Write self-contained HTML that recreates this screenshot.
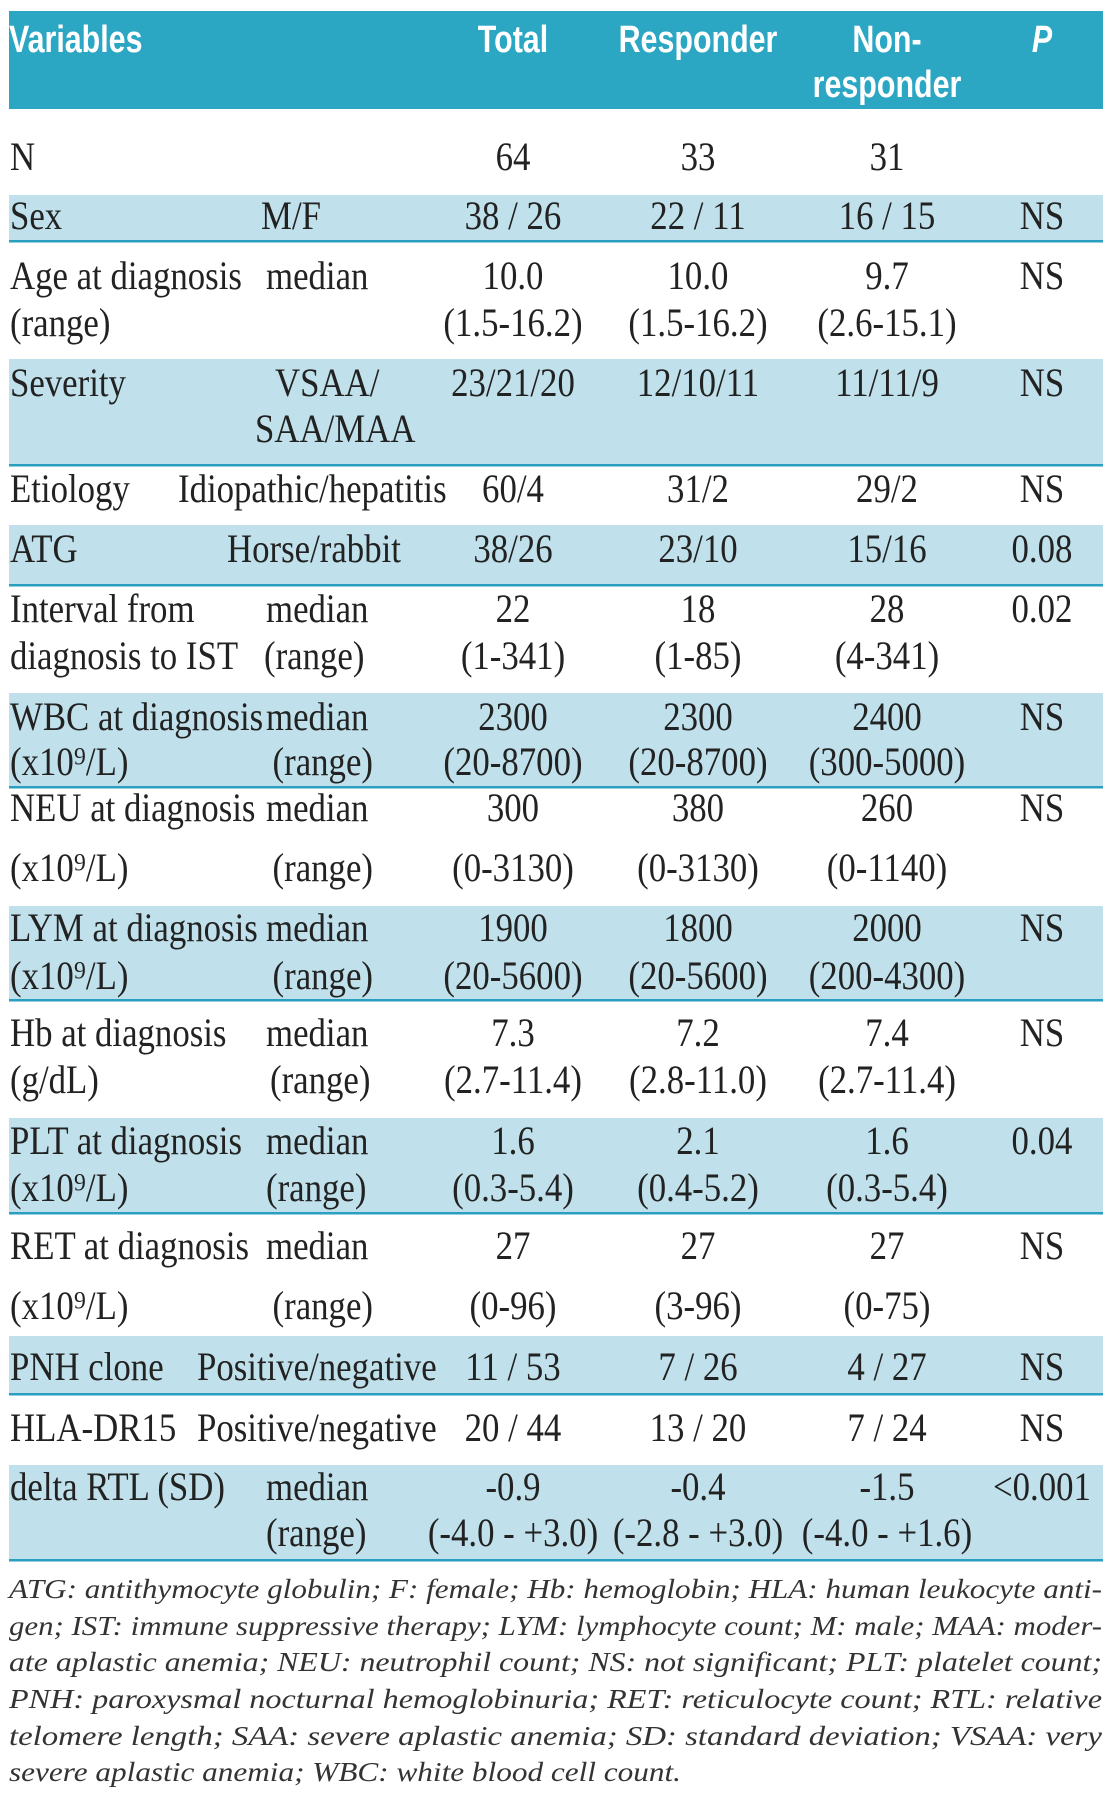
<!DOCTYPE html>
<html><head><meta charset="utf-8"><style>
html,body{margin:0;padding:0;background:#fff;}
svg{display:block;}
</style></head><body>
<svg id="s" width="1112" height="1800" xmlns="http://www.w3.org/2000/svg">
<rect x="9" y="11" width="1094" height="98" fill="#2ba6c3"/>
<g id="bands"></g>
<g id="hdr" transform="scale(0.8,1)" font-family="Liberation Sans, sans-serif" font-weight="bold" font-size="38" fill="#fff"></g>
<g id="body" transform="scale(0.87,1)" font-family="Liberation Serif, serif" font-size="40" fill="#222"></g>
<g id="foot" font-family="Liberation Serif, serif" font-style="italic" font-size="27" fill="#333"></g>
</svg>
<script>
const NS='http://www.w3.org/2000/svg';
const bandRows=[[195,241],[359,465],[525,585],[693,787],[906,1000],[1118,1213],[1336,1394],[1465,1560]];
const colX=[513,698,887,1042];
const rows=[
 {b:[170],c1:['N'],c2:[],v:[['64'],['33'],['31'],['']]},
 {b:[229],c1:['Sex'],c2:[['M/F',321,'end']],v:[['38 / 26'],['22 / 11'],['16 / 15'],['NS']]},
 {b:[289,336],c1:['Age at diagnosis','(range)'],c2:[['median',266,'start']],v:[['10.0','(1.5-16.2)'],['10.0','(1.5-16.2)'],['9.7','(2.6-15.1)'],['NS']]},
 {b:[396,442],c1:['Severity'],c2:[['VSAA/',275,'start'],['SAA/MAA',255,'start',1]],v:[['23/21/20'],['12/10/11'],['11/11/9'],['NS']]},
 {b:[502],c1:['Etiology'],c2:[['Idiopathic/hepatitis',178,'start']],v:[['60/4'],['31/2'],['29/2'],['NS']]},
 {b:[562],c1:['ATG'],c2:[['Horse/rabbit',227,'start']],v:[['38/26'],['23/10'],['15/16'],['0.08']]},
 {b:[622,669],c1:['Interval from','diagnosis to IST'],c2:[['median',266,'start'],['(range)',264,'start',1]],v:[['22','(1-341)'],['18','(1-85)'],['28','(4-341)'],['0.02']]},
 {b:[730,775],c1:['WBC at diagnosis','(x10⁹/L)'],c2:[['median',266,'start'],['(range)',373,'end',1]],v:[['2300','(20-8700)'],['2300','(20-8700)'],['2400','(300-5000)'],['NS']]},
 {b:[821,881],c1:['NEU at diagnosis','(x10⁹/L)'],c2:[['median',266,'start'],['(range)',373,'end',1]],v:[['300','(0-3130)'],['380','(0-3130)'],['260','(0-1140)'],['NS']]},
 {b:[941,989],c1:['LYM at diagnosis','(x10⁹/L)'],c2:[['median',266,'start'],['(range)',373,'end',1]],v:[['1900','(20-5600)'],['1800','(20-5600)'],['2000','(200-4300)'],['NS']]},
 {b:[1046,1093],c1:['Hb at diagnosis','(g/dL)'],c2:[['median',266,'start'],['(range)',270,'start',1]],v:[['7.3','(2.7-11.4)'],['7.2','(2.8-11.0)'],['7.4','(2.7-11.4)'],['NS']]},
 {b:[1154,1201],c1:['PLT at diagnosis','(x10⁹/L)'],c2:[['median',266,'start'],['(range)',266,'start',1]],v:[['1.6','(0.3-5.4)'],['2.1','(0.4-5.2)'],['1.6','(0.3-5.4)'],['0.04']]},
 {b:[1259,1319],c1:['RET at diagnosis','(x10⁹/L)'],c2:[['median',266,'start'],['(range)',373,'end',1]],v:[['27','(0-96)'],['27','(3-96)'],['27','(0-75)'],['NS']]},
 {b:[1380],c1:['PNH clone'],c2:[['Positive/negative',197,'start']],v:[['11 / 53'],['7 / 26'],['4 / 27'],['NS']]},
 {b:[1441],c1:['HLA-DR15'],c2:[['Positive/negative',197,'start']],v:[['20 / 44'],['13 / 20'],['7 / 24'],['NS']]},
 {b:[1500,1546],c1:['delta RTL (SD)'],c2:[['median',266,'start'],['(range)',266,'start',1]],v:[['-0.9','(-4.0 - +3.0)'],['-0.4','(-2.8 - +3.0)'],['-1.5','(-4.0 - +1.6)'],['<0.001']]}
];
const footLines=[
 'ATG: antithymocyte globulin; F: female; Hb: hemoglobin; HLA: human leukocyte anti-',
 'gen; IST: immune suppressive therapy; LYM: lymphocyte count; M: male; MAA: moder-',
 'ate aplastic anemia; NEU: neutrophil count; NS: not significant; PLT: platelet count;',
 'PNH: paroxysmal nocturnal hemoglobinuria; RET: reticulocyte count; RTL: relative',
 'telomere length; SAA: severe aplastic anemia; SD: standard deviation; VSAA: very',
 'severe aplastic anemia; WBC: white blood cell count.'];
const footBase=[1598,1635,1671,1708,1745,1781];

const bands=document.getElementById('bands');
bandRows.forEach(([a,b])=>{
 const r=document.createElementNS(NS,'rect');
 r.setAttribute('x',9);r.setAttribute('y',a);r.setAttribute('width',1094);r.setAttribute('height',b-a);r.setAttribute('fill','#c0e1eb');
 
 
 bands.appendChild(r);
 const l=document.createElementNS(NS,'rect');
 l.setAttribute('x',9);l.setAttribute('y',b-1);l.setAttribute('width',1094);l.setAttribute('height',2.5);l.setAttribute('fill','#2a9fc0');
 
 
 bands.appendChild(l);
});
function txt(g,s,x,y,anchor,sc,extra){
 const t=document.createElementNS(NS,'text');
 t.setAttribute('x',x/sc);t.setAttribute('y',y);t.setAttribute('text-anchor',anchor);
 if(extra)for(const k in extra)t.setAttribute(k,extra[k]);
 t.textContent=s;
 
 
 g.appendChild(t);return t;
}
const hdr=document.getElementById('hdr');
txt(hdr,'Variables',9,52,'start',0.8);
txt(hdr,'Total',513,52,'middle',0.8);
txt(hdr,'Responder',698,52,'middle',0.8);
txt(hdr,'Non-',887,52,'middle',0.8);
txt(hdr,'responder',887,97,'middle',0.8);
txt(hdr,'P',1042,52,'middle',0.8,{'font-style':'italic'});
const body=document.getElementById('body');
rows.forEach(r=>{
 r.c1.forEach((s,i)=>txt(body,s,10,r.b[i],'start',0.87));
 r.c2.forEach(c=>txt(body,c[0],c[1],r.b[c[3]||0],c[2],0.87));
 r.v.forEach((col,ci)=>col.forEach((s,i)=>{if(s)txt(body,s,colX[ci],r.b[i],'middle',0.87);}));
});
const foot=document.getElementById('foot');
footLines.forEach((s,i)=>{
 const ex={};
 if(i<footLines.length-1){ex.textLength=1093;ex.lengthAdjust='spacingAndGlyphs';}
 else {ex.textLength=672;ex.lengthAdjust='spacingAndGlyphs';}
 txt(foot,s,9,footBase[i],'start',1,ex);
});
</script>
</body></html>
